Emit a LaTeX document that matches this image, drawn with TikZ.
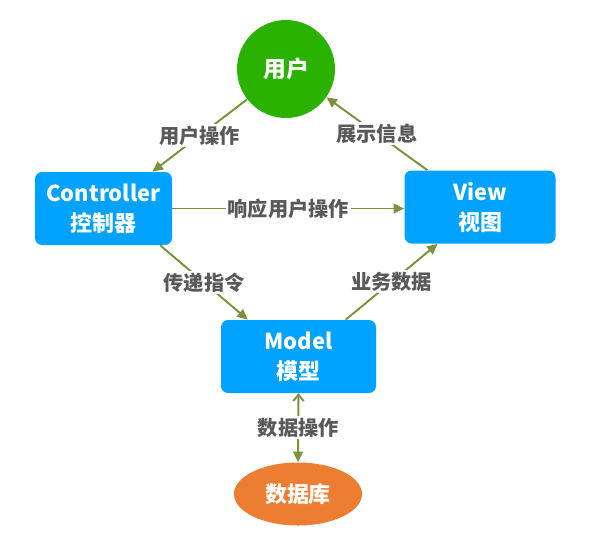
\documentclass[tikz,border=0pt]{standalone}
\usepackage{fontspec}
\usepackage{xcolor}
\usepackage{tikz}
\usetikzlibrary{positioning, arrows.meta, shapes.geometric, calc}
\newfontfamily\cjk{Noto Sans CJK SC}
\definecolor{mvcBlue}{RGB}{0, 162, 255}
\definecolor{mvcGreen}{RGB}{43, 178, 0}
\definecolor{mvcOrange}{RGB}{237, 125, 49}
\definecolor{mvcOlive}{RGB}{119, 147, 60}
\definecolor{mvcGray}{RGB}{89, 89, 89}

\begin{document}
\begin{tikzpicture}[
        font=\cjk\bfseries,
        b/.style={rectangle, rounded corners=4pt, fill=mvcBlue, text=white,
            align=center, inner sep=2pt, minimum height=1.46cm,
            font=\cjk\bfseries\fontsize{12.5}{17}\selectfont},
        lbl/.style={fill=white, text=mvcGray, inner sep=1pt,
            font=\cjk\bfseries\fontsize{11.5}{13}\selectfont},
        arr/.style={-{Triangle[length=6pt, width=5.5pt]}, line width=1.1pt, mvcOlive}
    ]
    \useasboundingbox (0,0) rectangle (11.94,-10.84);
    \node[circle, fill=mvcGreen, text=white, minimum size=1.96cm,
        font=\cjk\bfseries\fontsize{13}{15}\selectfont] (user) at (5.72,-1.38) {用户};
    \node[b, minimum width=2.74cm] (ctrl)  at (2.07,-4.17) {Controller\\控制器};
    \node[b, minimum width=3.02cm] (view)  at (9.60,-4.14) {View\\视图};
    \node[b, minimum width=3.10cm] (model) at (5.97,-7.13) {Model\\模型};
    \node[ellipse, fill=mvcOrange, text=white, minimum width=2.56cm, minimum height=1.26cm,
        font=\cjk\bfseries\fontsize{12.5}{15}\selectfont] (db) at (5.96,-9.88) {数据库};
    \draw[arr] (user.218) -- (ctrl.37) node[lbl, midway] {用户操作};
    \draw[arr] (view.145) -- (user.325) node[lbl, midway] {展示信息};
    \draw[arr] (ctrl.east) -- (ctrl.east -| view.west) node[lbl, midway] {响应用户操作};
    \draw[arr] (ctrl.-33) -- (model.144) node[lbl, midway] {传递指令};
    \draw[arr] (model.38) -- (view.221) node[lbl, midway] {业务数据};
    \draw[arr, {Straight Barb[length=3.5pt, width=6pt]}-{Triangle[length=6pt, width=5.5pt]}]
        (model.south) -- (db.north) node[lbl, midway] {数据操作};
\end{tikzpicture}
\end{document}
